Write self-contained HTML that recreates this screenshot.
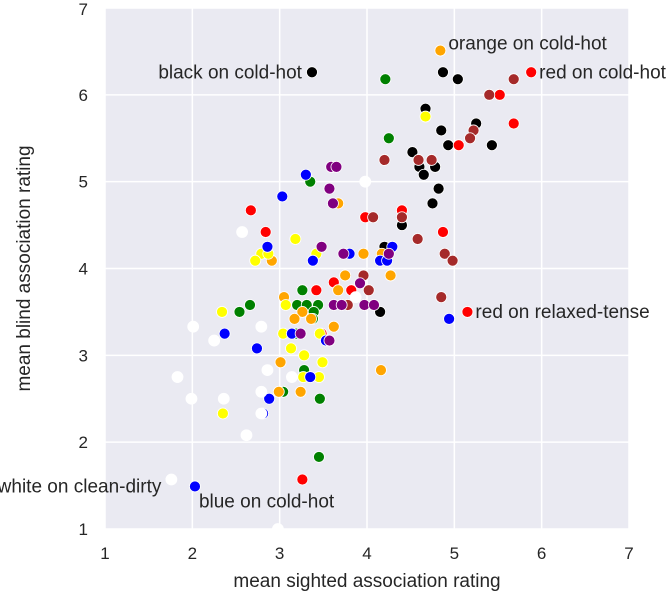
<!DOCTYPE html>
<html><head><meta charset="utf-8"><style>
body{margin:0;background:#fff;}
svg text{font-family:"Liberation Sans",Arial,sans-serif;fill:#262626;}
</style></head><body>
<svg id="chart" width="666" height="596"></svg>
<script>
const xTicks=[1,2,3,4,5,6,7];
const yTicks=[1,2,3,4,5,6,7];
const colors=["black","green","red","brown","orange","yellow","blue","purple","white"];
const xBlack=[3.37,4.87,5.04,4.67,4.85,5.25,4.93,5.43,4.52,4.60,4.78,4.65,4.82,4.75,4.40,4.20,4.15];
const yBlack=[6.26,6.26,6.18,5.84,5.59,5.67,5.42,5.42,5.34,5.17,5.17,5.08,4.92,4.75,4.50,4.25,3.50];
const xGreen=[4.21,4.25,3.35,2.66,2.54,3.26,3.20,3.31,3.44,3.39,3.38,3.19,3.28,3.04,3.46,3.45];
const yGreen=[6.18,5.50,5.00,3.58,3.50,3.75,3.58,3.58,3.58,3.50,3.42,3.25,2.83,2.58,2.50,1.83];
const xRed=[5.88,5.15,5.52,5.68,5.05,2.67,2.84,3.98,4.40,4.87,3.62,3.82,3.42,3.26,3.48];
const yRed=[6.26,3.50,6.00,5.67,5.42,4.67,4.42,4.59,4.67,4.42,3.84,3.75,3.75,1.57,3.25];
const xBrown=[5.68,5.40,5.22,5.18,4.20,4.59,4.74,4.07,4.40,4.58,4.89,4.98,3.96,4.02,3.78,4.85];
const yBrown=[6.18,6.00,5.59,5.50,5.25,5.25,5.25,4.59,4.59,4.34,4.17,4.09,3.92,3.75,3.58,3.67];
const xOrange=[4.84,3.67,3.96,4.17,2.91,3.75,4.27,3.67,3.05,3.26,3.17,3.36,3.62,3.01,4.16,2.99,3.24];
const yOrange=[6.51,4.75,4.17,4.17,4.09,3.92,3.92,3.75,3.67,3.50,3.42,3.42,3.33,2.92,2.83,2.58,2.58];
const xYellow=[4.67,3.18,3.42,2.79,2.87,2.72,2.34,3.07,3.04,3.46,3.13,3.28,3.49,3.27,3.45,2.35];
const yYellow=[5.75,4.34,4.17,4.17,4.17,4.09,3.50,3.58,3.25,3.25,3.08,3.00,2.92,2.75,2.75,2.33];
const xBlue=[2.03,3.30,3.03,2.86,3.80,3.38,4.29,4.15,4.23,4.94,2.37,2.74,3.53,3.14,3.35,2.88,2.81];
const yBlue=[1.49,5.08,4.83,4.25,4.17,4.09,4.25,4.09,4.09,3.42,3.25,3.08,3.17,3.25,2.75,2.50,2.33];
const xPurple=[3.59,3.65,3.57,3.61,3.48,3.73,4.25,3.92,3.62,3.71,3.97,4.08,3.24,3.57];
const yPurple=[5.17,5.17,4.92,4.75,4.25,4.17,4.17,3.83,3.58,3.58,3.58,3.58,3.25,3.17];
const xWhite=[1.76,3.98,2.57,2.01,2.79,2.25,1.83,2.86,3.14,2.79,1.99,2.36,2.79,2.62,2.98,3.87];
const yWhite=[1.57,5.00,4.42,3.33,3.33,3.17,2.75,2.83,2.75,2.58,2.50,2.50,2.33,2.08,1.00,3.67];
const labelText=["orange on cold-hot","black on cold-hot","red on cold-hot","white on clean-dirty","blue on cold-hot","red on relaxed-tense"];
const labelX=[4.84,3.37,5.88,1.76,2.03,5.15];
const labelY=[6.51,6.26,6.26,1.57,1.49,3.50];
const labelSide=["right","left","right","left","below","right"];

const L=105,T=8,W=524,H=521;
const sx=v=>L+(v-1)/6*W, sy=v=>T+(7-v)/6*H;
const NS="http://www.w3.org/2000/svg";
const svg=document.getElementById('chart');
function mk(tag,attrs,parent){const e=document.createElementNS(NS,tag);for(const k in attrs)e.setAttribute(k,attrs[k]);(parent||svg).appendChild(e);return e;}
const defs=mk('defs',{});const cp=mk('clipPath',{id:'clip'},defs);mk('rect',{x:L,y:T,width:W,height:H},cp);
const bg=mk('rect',{x:L,y:T,width:W,height:H,fill:'#eaeaf2'});


xTicks.forEach(t=>{
 const g=mk('line',{x1:sx(t),x2:sx(t),y1:T,y2:T+H,stroke:'#fff','stroke-width':1.5});
 
 
 const tx=mk('text',{x:sx(t),y:559,'text-anchor':'middle','font-size':17});tx.textContent=t;
 
 
});
yTicks.forEach(t=>{
 const g=mk('line',{x1:L,x2:L+W,y1:sy(t),y2:sy(t),stroke:'#fff','stroke-width':1.5});
 
 
 const tx=mk('text',{x:88,y:Math.max(sy(t)+6,15),'text-anchor':'end','font-size':17});tx.textContent=t;
 
 
});
const xt=mk('text',{x:L+W/2,y:587,'text-anchor':'middle','font-size':19});xt.textContent='mean sighted association rating';


const yt=mk('text',{x:0,y:0,'text-anchor':'middle','font-size':19,transform:`translate(30,${T+H/2}) rotate(-90)`});yt.textContent='mean blind association rating';


const pg=mk('g',{'clip-path':'url(#clip)'});
const series=[[xBlack,yBlack,'black'],[xGreen,yGreen,'green'],[xRed,yRed,'red'],[xBrown,yBrown,'brown'],[xOrange,yOrange,'orange'],[xYellow,yYellow,'yellow'],[xBlue,yBlue,'blue'],[xPurple,yPurple,'purple'],[xWhite,yWhite,'white']];
series.forEach(([xs,ys,c])=>{
 xs.forEach((x,i)=>{
  const p=mk('circle',{cx:sx(x),cy:sy(ys[i]),r:5.5,fill:c,stroke:'#fff','stroke-width':0.8},pg);
  
  
 });
});
labelText.forEach((s,i)=>{
 let x=sx(labelX[i]),y=sy(labelY[i])+6,a='start';
 if(labelSide[i]==='right'){x+=8;}
 else if(labelSide[i]==='left'){x-=10;a='end';}
 else {x+=4;y+=15;}
 if(i===0){y-=7;}
 if(i===3){y+=7;}
 const t=mk('text',{x:x,y:y,'text-anchor':a,'font-size':19});t.textContent=s;
 
 
});
</script>
</body></html>
